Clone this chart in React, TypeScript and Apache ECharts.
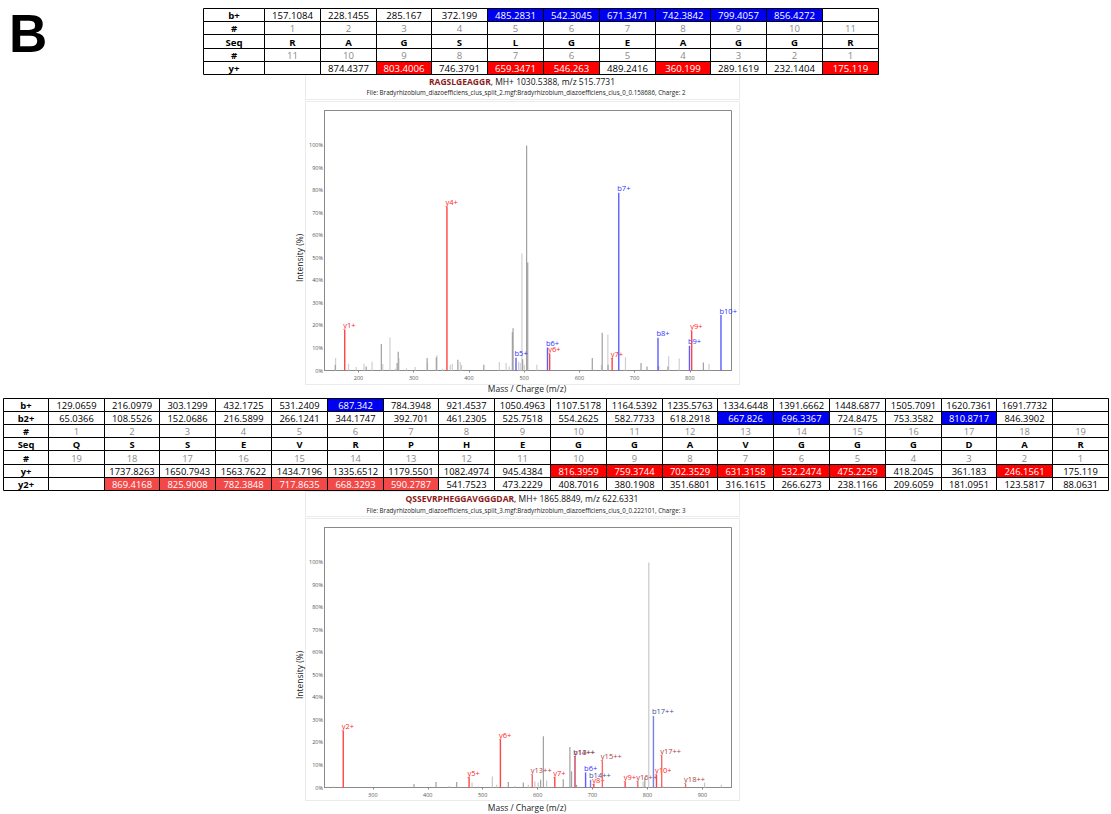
import React, { useEffect, useRef } from 'react';
import * as echarts from 'echarts';

const FONT = '"Open Sans", "DejaVu Sans", sans-serif';

// ---------- texts ----------
const panelLetter = 'B';
const topPeptide = 'RAGSLGEAGGR';
const topTitleRest = ', MH+ 1030.5388, m/z 515.7731';
const topFile = 'File: Bradyrhizobium_diazoefficiens_clus_split_2.mgf:Bradyrhizobium_diazoefficiens_clus_0_0.158686, Charge: 2';
const botPeptide = 'QSSEVRPHEGGAVGGGDAR';
const botTitleRest = ', MH+ 1865.8849, m/z 622.6331';
const botFile = 'File: Bradyrhizobium_diazoefficiens_clus_split_3.mgf:Bradyrhizobium_diazoefficiens_clus_0_0.222101, Charge: 3';
const xTitle = 'Mass / Charge (m/z)';
const yTitle = 'Intensity (%)';

// ---------- top table ----------
const topSeq = ['R', 'A', 'G', 'S', 'L', 'G', 'E', 'A', 'G', 'G', 'R'];
const topB = ['157.1084', '228.1455', '285.167', '372.199', '485.2831', '542.3045', '671.3471', '742.3842', '799.4057', '856.4272', ''];
const topY = ['', '874.4377', '803.4006', '746.3791', '659.3471', '546.263', '489.2416', '360.199', '289.1619', '232.1404', '175.119'];
const topBHits = [5, 6, 7, 8, 9, 10];
const topYHits = [3, 5, 6, 8, 11];

// ---------- middle table ----------
const midSeq = ['Q', 'S', 'S', 'E', 'V', 'R', 'P', 'H', 'E', 'G', 'G', 'A', 'V', 'G', 'G', 'G', 'D', 'A', 'R'];
const midB = ['129.0659', '216.0979', '303.1299', '432.1725', '531.2409', '687.342', '784.3948', '921.4537', '1050.4963', '1107.5178', '1164.5392', '1235.5763', '1334.6448', '1391.6662', '1448.6877', '1505.7091', '1620.7361', '1691.7732', ''];
const midB2 = ['65.0366', '108.5526', '152.0686', '216.5899', '266.1241', '344.1747', '392.701', '461.2305', '525.7518', '554.2625', '582.7733', '618.2918', '667.826', '696.3367', '724.8475', '753.3582', '810.8717', '846.3902', ''];
const midY = ['', '1737.8263', '1650.7943', '1563.7622', '1434.7196', '1335.6512', '1179.5501', '1082.4974', '945.4384', '816.3959', '759.3744', '702.3529', '631.3158', '532.2474', '475.2259', '418.2045', '361.183', '246.1561', '175.119'];
const midY2 = ['', '869.4168', '825.9008', '782.3848', '717.8635', '668.3293', '590.2787', '541.7523', '473.2229', '408.7016', '380.1908', '351.6801', '316.1615', '266.6273', '238.1166', '209.6059', '181.0951', '123.5817', '88.0631'];
const midBHits = [6];
const midB2Hits = [13, 14, 17];
const midYHits = [10, 11, 12, 13, 14, 15, 18];
const midY2Hits = [2, 3, 4, 5, 6, 7];

// ---------- spectra ----------
const yTicks = [0, 10, 20, 30, 40, 50, 60, 70, 80, 90, 100];
const topXTicks = [200, 300, 400, 500, 600, 700, 800];
const botXTicks = [300, 400, 500, 600, 700, 800, 900];
const topXRange = [138.5, 875.5];
const botXRange = [212, 953];

const topGrayDark: [number, number][] = [
  [158, 2.5], [214, 1.8], [241.4, 11.8], [270, 3.3], [272, 8.3], [324.3, 5.6], [341, 5.9], [380, 4.8],
  [427, 2.6], [478.7, 17], [480, 18.8], [497.3, 5], [504.5, 100], [506.5, 48], [623.4, 5.6], [641.4, 16.8],
  [652, 2.5], [711.7, 3.3], [722.5, 1.8], [743.5, 2], [760.4, 1.8], [824.6, 3.6],
];
const topGrayLight: [number, number][] = [
  [158.6, 5.6], [182, 3], [196, 1.5], [210, 3], [224.6, 3.9], [244, 2.9], [257, 14.7], [266.7, 0.8],
  [273.3, 5.6], [287, 1], [302.7, 1.5], [325, 3.3], [342.3, 6.8], [352, 0.8], [366.4, 2.6], [370, 2.9],
  [384.4, 3.8], [386.8, 2.4], [455, 3.8], [467.3, 3.3], [473, 1.8], [490, 4], [493, 3.3], [496, 52],
  [500.3, 2.5], [523, 2.5], [640, 2.5], [651.6, 16], [683.5, 5.9], [761.6, 6.3], [780.8, 5.3], [834.8, 3],
];
const topIons: [string, number, number][] = [
  ['y1+', 175.119, 18], ['y4+', 360.199, 72.8], ['b5+', 485.2831, 5.7], ['b6+', 542.3045, 10.2],
  ['y6+', 546.263, 7.4], ['y7+', 659.3471, 5.5], ['b7+', 671.3471, 79], ['b8+', 742.3842, 14.6],
  ['b9+', 799.4057, 11], ['y9+', 803.4006, 17.6], ['b10+', 856.4272, 24.6],
];

const botGrayDark: [number, number][] = [
  [375, 1.6], [415, 2.4], [452.7, 2.4], [546.7, 2.4], [574, 2.2], [605.5, 3.4], [610.5, 22.8],
  [646.7, 3.7], [658.8, 18], [661.8, 7.2], [670.9, 1.2], [795.2, 4.2],
];
const botGrayLight: [number, number][] = [
  [228.5, 0.5], [439.4, 0.7], [480.6, 2.2], [492, 0.5], [517.6, 4.9], [525.5, 1.2], [558.8, 0.7],
  [583, 1.2], [595, 2.7], [601.2, 2.2], [616.4, 3.1], [792, 2.7], [802.4, 100], [828.5, 0.5],
  [837.6, 0.4], [904, 2.2], [934.5, 1.2],
];
const botIons: [string, number, number][] = [
  ['y2+', 246.1561, 25.2], ['y5+', 475.2259, 4.6], ['y6+', 532.2474, 21.3], ['y13++', 590.2787, 5.7],
  ['y7+', 631.3158, 4.6], ['b13++', 667.826, 13.9], ['y14++', 668.3293, 13.9], ['b6+', 687.342, 6.7],
  ['b14++', 696.3367, 3.4], ['y8+', 702.3529, 1.5], ['y15++', 717.8635, 12], ['y9+', 759.3744, 2.7],
  ['y16++', 782.3848, 2.7], ['b17++', 810.8717, 31.8], ['y10+', 816.3959, 5.7], ['y17++', 825.9008, 14.2],
  ['y18++', 869.4168, 1.6],
];

// ---------- layout ----------
const PLOT_LEFT = 324.5;
const PLOT_W = 407;
const PLOT_H = 260;
const TOP_PLOT_TOP = 110.5;
const BOT_PLOT_TOP = 527.5;
const Y_MAX = 115.5;

const BLUE = '#0000f0';
const RED = '#ff0000';
const RED2 = '#f24848';

function ionColors(label: string) {
  const dbl = label.endsWith('++');
  if (label[0] === 'b') return dbl ? { line: '#7880f0', text: '#3c4a9c' } : { line: '#5c5cff', text: '#3030ff' };
  return dbl ? { line: '#f26a6a', text: '#b23c3c' } : { line: '#ff4444', text: '#ff2424' };
}

type Row = { label: string; cells: string[]; kind: 'val' | 'idx' | 'seq'; hits?: number[]; hitColor?: string };

function buildTable(x0: number, y0: number, labelW: number, colW: number, rowH: number, rows: Row[], fs: number) {
  const els: any[] = [];
  const e = (v: number) => Math.round(v) + 0.5;
  rows.forEach((row, r) => {
    const yt = e(y0 + r * rowH);
    const yb = e(y0 + (r + 1) * rowH);
    const xl = e(x0);
    const xr = e(x0 + labelW);
    els.push({ type: 'rect', shape: { x: xl, y: yt, width: xr - xl, height: yb - yt }, style: { fill: '#fff', stroke: '#000', lineWidth: 1 }, z: 10 });
    els.push({
      type: 'text', x: (xl + xr) / 2, y: (yt + yb) / 2 + 0.5, z: 11,
      style: { text: row.label, fill: '#000', fontSize: fs, fontWeight: 'bold', fontFamily: FONT, align: 'center', verticalAlign: 'middle', textAlign: 'center', textVerticalAlign: 'middle' },
    });
    row.cells.forEach((cell, c) => {
      const a = e(x0 + labelW + c * colW);
      const b = e(x0 + labelW + (c + 1) * colW);
      const hit = (row.hits || []).includes(c + 1);
      els.push({ type: 'rect', shape: { x: a, y: yt, width: b - a, height: yb - yt }, style: { fill: hit ? row.hitColor : '#fff', stroke: '#000', lineWidth: 1 }, z: 10 });
      if (cell !== '') {
        els.push({
          type: 'text', x: (a + b) / 2, y: (yt + yb) / 2 + 0.5, z: 11,
          style: {
            text: cell,
            fill: hit ? '#fff' : row.kind === 'idx' ? '#8a8a8a' : '#000',
            fontSize: fs, fontWeight: row.kind === 'seq' ? 'bold' : 'normal', fontFamily: FONT,
            align: 'center', verticalAlign: 'middle', textAlign: 'center', textVerticalAlign: 'middle',
          },
        });
      }
    });
  });
  return els;
}

function idxUp(n: number) { return Array.from({ length: n }, (_, i) => String(i + 1)); }
function idxDown(n: number) { return Array.from({ length: n }, (_, i) => String(n - i)); }

function panelGraphics(headerTop: number, headerBottom: number, plotTop: number, plotBottom: number, peptide: string, rest: string, file: string, titleY: number, fileY: number, axisTitleY: number, plotAxisTop: number) {
  const dash = { fill: 'none', stroke: '#d6d6d6', lineWidth: 1, lineDash: [1, 1] };
  return [
    { type: 'rect', shape: { x: 305.5, y: headerTop, width: 434, height: headerBottom - headerTop }, style: dash, z: 1 },
    { type: 'rect', shape: { x: 305.5, y: plotTop, width: 434, height: plotBottom - plotTop }, style: dash, z: 1 },
    {
      type: 'text', x: 522, y: titleY, z: 5,
      style: {
        text: `{p|${peptide}}{n|${rest}}`,
        rich: {
          p: { fill: '#8b1a1a', fontWeight: 'bold', fontSize: 8.5, fontFamily: FONT },
          n: { fill: '#111', fontSize: 8.5, fontFamily: FONT },
        },
        align: 'center', verticalAlign: 'middle', textAlign: 'center', textVerticalAlign: 'middle',
      },
    },
    {
      type: 'text', x: 526, y: fileY, z: 5,
      style: { text: file, fill: '#222', fontSize: 6.2, fontFamily: FONT, align: 'center', verticalAlign: 'middle', textAlign: 'center', textVerticalAlign: 'middle' },
    },
    {
      type: 'text', x: 527, y: axisTitleY, z: 5,
      style: { text: xTitle, fill: '#222', fontSize: 8.5, fontFamily: FONT, align: 'center', verticalAlign: 'middle', textAlign: 'center', textVerticalAlign: 'middle' },
    },
    {
      type: 'text', x: 299, y: plotAxisTop + (PLOT_H - PLOT_H * 100 / Y_MAX) + PLOT_H * 50 / Y_MAX, rotation: Math.PI / 2, z: 5,
      style: { text: yTitle, fill: '#222', fontSize: 8.5, fontFamily: FONT, align: 'center', verticalAlign: 'middle', textAlign: 'center', textVerticalAlign: 'middle' },
    },
  ];
}

function peakSeries(grid: number, data: [number, number][], color: string, labels?: string[]) {
  return {
    type: 'custom',
    xAxisIndex: grid,
    yAxisIndex: grid,
    silent: true,
    data,
    renderItem: (params: any, api: any) => {
      const mz = api.value(0);
      const it = api.value(1);
      const p0 = api.coord([mz, 0]);
      const p1 = api.coord([mz, it]);
      const label = labels ? labels[params.dataIndex] : '';
      const col = label ? ionColors(label) : { line: color, text: color };
      const w = label ? 1.4 : 1.2;
      const children: any[] = [
        { type: 'rect', shape: { x: p0[0] - w / 2, y: p1[1], width: w, height: Math.max(0.8, p0[1] - p1[1]) }, style: { fill: col.line, stroke: null } },
      ];
      if (label) {
        children.push({
          type: 'text', x: p0[0] - 1.5, y: p1[1] - 0.5,
          style: { text: label, fill: col.text, fontSize: 7.5, fontFamily: FONT, align: 'left', verticalAlign: 'bottom', textAlign: 'left', textVerticalAlign: 'bottom' },
        });
      }
      return { type: 'group', children };
    },
  };
}

function xAxisFor(grid: number, range: number[], ticks: number[]) {
  return {
    type: 'value', gridIndex: grid, min: range[0], max: range[1],
    axisLine: { show: true, lineStyle: { color: '#8a8a8a', width: 1 } },
    axisTick: { show: true, length: 2, customValues: ticks, lineStyle: { color: '#8a8a8a' } },
    axisLabel: { customValues: ticks, fontSize: 5.5, color: '#555', margin: 4, fontFamily: FONT },
    splitLine: { show: false },
  };
}
function yAxisFor(grid: number) {
  return {
    type: 'value', gridIndex: grid, min: 0, max: Y_MAX,
    axisLine: { show: true, lineStyle: { color: '#8a8a8a', width: 1 } },
    axisTick: { show: false },
    axisLabel: { customValues: yTicks, formatter: (v: number) => v + '%', fontSize: 5.5, color: '#555', margin: 1.5, fontFamily: FONT },
    splitLine: { show: false },
  };
}

export default function App() {
  const ref = useRef<HTMLDivElement>(null);
  useEffect(() => {
    document.body.style.margin = '0';
    const chart = echarts.init(ref.current!, null, { renderer: 'svg' });

    const topRows: Row[] = [
      { label: 'b+', cells: topB, kind: 'val', hits: topBHits, hitColor: BLUE },
      { label: '#', cells: idxUp(topSeq.length), kind: 'idx' },
      { label: 'Seq', cells: topSeq, kind: 'seq' },
      { label: '#', cells: idxDown(topSeq.length), kind: 'idx' },
      { label: 'y+', cells: topY, kind: 'val', hits: topYHits, hitColor: RED },
    ];
    const midRows: Row[] = [
      { label: 'b+', cells: midB, kind: 'val', hits: midBHits, hitColor: BLUE },
      { label: 'b2+', cells: midB2, kind: 'val', hits: midB2Hits, hitColor: BLUE },
      { label: '#', cells: idxUp(midSeq.length), kind: 'idx' },
      { label: 'Seq', cells: midSeq, kind: 'seq' },
      { label: '#', cells: idxDown(midSeq.length), kind: 'idx' },
      { label: 'y+', cells: midY, kind: 'val', hits: midYHits, hitColor: RED },
      { label: 'y2+', cells: midY2, kind: 'val', hits: midY2Hits, hitColor: RED2 },
    ];

    const graphics: any[] = [
      {
        type: 'text', x: 9, y: 33, z: 5,
        style: { text: panelLetter, fill: '#000', fontSize: 53, fontWeight: 'bold', fontFamily: '"Liberation Sans", Arial, sans-serif', align: 'left', verticalAlign: 'middle', textAlign: 'left', textVerticalAlign: 'middle' },
      },
      ...buildTable(203, 7.7, 61, 55.8, 13.3, topRows, 9.6),
      ...buildTable(3, 398, 44.8, 55.8, 13.1, midRows, 9.4),
      ...panelGraphics(74.5, 99.5, 101.5, 384.5, topPeptide, topTitleRest, topFile, 81, 92.6, 388, TOP_PLOT_TOP),
      ...panelGraphics(491.5, 516.5, 518.5, 800.5, botPeptide, botTitleRest, botFile, 498.8, 510.4, 807, BOT_PLOT_TOP),
    ];

    const option: any = {
      animation: false,
      backgroundColor: '#fff',
      grid: [
        { left: PLOT_LEFT, top: TOP_PLOT_TOP, width: PLOT_W, height: PLOT_H, show: true, borderColor: '#8a8a8a', borderWidth: 1, backgroundColor: 'transparent', z: 2 },
        { left: PLOT_LEFT, top: BOT_PLOT_TOP, width: PLOT_W, height: PLOT_H, show: true, borderColor: '#8a8a8a', borderWidth: 1, backgroundColor: 'transparent', z: 2 },
      ],
      xAxis: [xAxisFor(0, topXRange, topXTicks), xAxisFor(1, botXRange, botXTicks)],
      yAxis: [yAxisFor(0), yAxisFor(1)],
      series: [
        peakSeries(0, topGrayLight, '#cfcfcf'),
        peakSeries(0, topGrayDark, '#a0a0a0'),
        peakSeries(0, topIons.map((d) => [d[1], d[2]] as [number, number]), '#000', topIons.map((d) => d[0])),
        peakSeries(1, botGrayLight, '#c8c8c8'),
        peakSeries(1, botGrayDark, '#a0a0a0'),
        peakSeries(1, botIons.map((d) => [d[1], d[2]] as [number, number]), '#000', botIons.map((d) => d[0])),
      ],
      graphic: { elements: graphics },
    };
    chart.setOption(option);
    return () => chart.dispose();
  }, []);
  return <div ref={ref} style={{ width: 1111, height: 814 }} />;
}
